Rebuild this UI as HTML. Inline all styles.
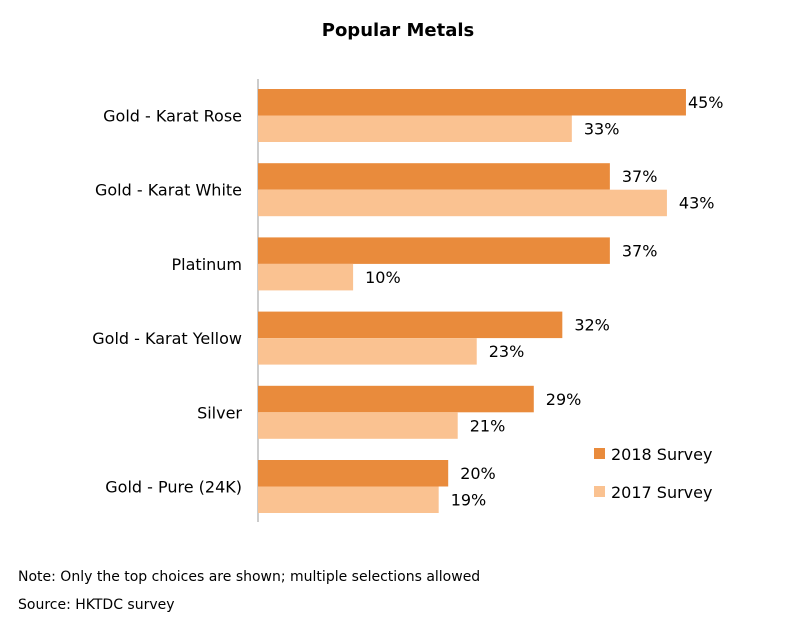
<!DOCTYPE html>
<html><head><meta charset="utf-8">
<style>
body{margin:0;background:#fff;width:800px;height:628px;overflow:hidden;font-family:"DejaVu Sans","Liberation Sans",sans-serif;}
svg text{font-family:"DejaVu Sans","Liberation Sans",sans-serif;}
</style></head>
<body>
<svg id="chart" width="800" height="628">
<text x="398" y="36" text-anchor="middle" font-size="18" font-weight="bold" fill="#000">Popular Metals</text>
<line x1="258" y1="79" x2="258" y2="522" stroke="#999" stroke-width="1"/>
<g id="bars"></g>
<rect x="594" y="448" width="11" height="11" fill="#E98B3C"/>
<text x="611" y="460" font-size="16" fill="#000">2018 Survey</text>
<rect x="594" y="486" width="11" height="11" fill="#FAC291"/>
<text x="611" y="498" font-size="16" fill="#000">2017 Survey</text>
<text x="18" y="581" font-size="14" fill="#000">Note: Only the top choices are shown; multiple selections allowed</text>
<text x="18" y="609" font-size="14" fill="#000">Source: HKTDC survey</text>
</svg>
<script>
const categories = ["Gold - Karat Rose","Gold - Karat White","Platinum","Gold - Karat Yellow","Silver","Gold - Pure (24K)"];
const survey2018 = [45,37,37,32,29,20];
const survey2017 = [33,43,10,23,21,19];
const x0 = 258, pxPer = 9.51, top0 = 89, groupStep = 74.2, barH = 26.5;
function xs(v){return v*pxPer;}
const g = document.getElementById('bars');
const NS = 'http://www.w3.org/2000/svg';
categories.forEach((c,i)=>{
  const y = top0 + i*groupStep;
  const lab = document.createElementNS(NS,'text');
  
  
  lab.setAttribute('x',242); lab.setAttribute('y',y+barH+6);
  lab.setAttribute('text-anchor','end'); lab.setAttribute('font-size','16');
  lab.textContent = c; g.appendChild(lab);
  [[survey2018[i],'#E98B3C',0,'bar-2018'],[survey2017[i],'#FAC291',barH,'bar-2017']].forEach(([v,col,off,nm])=>{
    const r = document.createElementNS(NS,'rect');
    
    
    r.setAttribute('x',x0); r.setAttribute('y',y+off);
    r.setAttribute('width',xs(v)); r.setAttribute('height',barH);
    r.setAttribute('fill',col); g.appendChild(r);
    const t = document.createElementNS(NS,'text');
    
    
    t.setAttribute('x',x0+xs(v)+ (v>=45?2:12)); t.setAttribute('y',y+off+19);
    t.setAttribute('font-size','16');
    t.textContent = v+'%'; g.appendChild(t);
  });
});
</script>
</body></html>
